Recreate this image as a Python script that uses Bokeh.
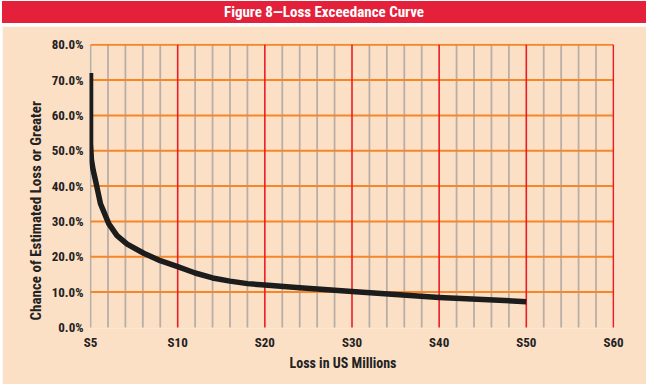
from bokeh.plotting import figure
from bokeh.models import FixedTicker, Range1d, Div, ColumnDataSource, Title
from bokeh.layouts import column
from bokeh.embed import file_html
from bokeh.resources import INLINE

# ---- data ----
title_text = "Figure 8\u2014Loss Exceedance Curve"
x_label = "Loss in US Millions"
y_label = "Chance of Estimated Loss or Greater"
x_tick_values = [5, 10, 20, 30, 40, 50, 60]
x_tick_labels = ["S5", "S10", "S20", "S30", "S40", "S50", "S60"]
y_tick_values = [0, 10, 20, 30, 40, 50, 60, 70, 80]
y_tick_labels = ["0.0%", "10.0%", "20.0%", "30.0%", "40.0%", "50.0%", "60.0%", "70.0%", "80.0%"]
minor_per_major = 5
loss_millions = [5.0, 5.0, 5.05, 5.15, 5.29, 5.57, 6.05, 6.52, 7.1, 8.05, 9.0, 10.0,
                 12.0, 14.0, 16.0, 18.0, 20.0, 24.0, 30.0, 35.0, 40.0, 45.0, 50.0]
chance_pct = [72.0, 52.0, 47.5, 44.5, 41.5, 35.0, 29.3, 26.0, 23.6, 21.0, 18.9, 17.2,
              15.4, 14.0, 13.1, 12.4, 12.0, 11.2, 10.2, 9.3, 8.5, 7.9, 7.3]


def axis_pos(v):
    # category-like axis: S5..S10 occupies one major step, then steps of 10
    return (v - 5) / 5.0 if v <= 10 else v / 10.0


xs = [axis_pos(v) for v in loss_millions]
tick_pos = [axis_pos(v) for v in x_tick_values]
n_major = len(tick_pos) - 1
minor_pos = [i / minor_per_major for i in range(0, n_major * minor_per_major)
             if i % minor_per_major != 0 or i == 0]
y_lo, y_hi = y_tick_values[0], y_tick_values[-1]
x_lo, x_hi = tick_pos[0], tick_pos[-1]

PEACH = "#fce0c6"
RED = "#e4203a"
FONT = "'Roboto Condensed', Roboto, sans-serif"
TXT = "#222222"

header = Div(text=title_text, width=644, height=22, margin=(1, 4, 0, 2),
             styles={"background-color": RED, "color": "white",
                     "font-family": FONT, "font-weight": "bold",
                     "font-size": "15px", "text-align": "center",
                     "line-height": "22px"})

p = figure(width=644, height=358, output_backend="svg", toolbar_location=None,
           title=None, margin=(0, 4, 4, 2),
           x_range=Range1d(-0.012, 6.012), y_range=Range1d(-0.3, 80.35),
           min_border_left=87, min_border_right=32, min_border_top=17,
           min_border_bottom=56)
p.background_fill_color = PEACH
p.border_fill_color = PEACH
p.outline_line_color = None
p.xgrid.visible = False
p.ygrid.visible = False

# grid lines: gray minor verticals, orange horizontals, red major verticals
p.segment(x0=minor_pos, x1=minor_pos, y0=[y_lo] * len(minor_pos), y1=[y_hi] * len(minor_pos),
          line_color="#b9aea6", line_width=1.8)
hy = y_tick_values[1:]
p.segment(x0=[x_lo] * len(hy), x1=[x_hi] * len(hy), y0=hy, y1=hy,
          line_color="#f5862a", line_width=2)
mx = tick_pos[1:]
p.segment(x0=mx, x1=mx, y0=[y_lo] * len(mx), y1=[y_hi] * len(mx),
          line_color="#ec1c24", line_width=1.6)

# axes (tick labels only; axis titles placed as side titles)
p.xaxis.ticker = FixedTicker(ticks=tick_pos)
p.xaxis.major_label_overrides = {t: l for t, l in zip(tick_pos, x_tick_labels)}
p.yaxis.ticker = FixedTicker(ticks=y_tick_values)
p.yaxis.major_label_overrides = {t: l for t, l in zip(y_tick_values, y_tick_labels)}
for ax in (p.xaxis, p.yaxis):
    ax.axis_line_color = None
    ax.major_tick_line_color = None
    ax.minor_tick_line_color = None
    ax.major_tick_out = 0
    ax.major_tick_in = 0
    ax.major_label_text_font = FONT
    ax.major_label_text_font_style = "bold"
    ax.major_label_text_font_size = "13px"
    ax.major_label_text_color = TXT
p.xaxis.major_label_standoff = 6
p.yaxis.major_label_standoff = 6

p.add_layout(Title(text=x_label, align="left", offset=200, standoff=0,
                   text_font=FONT, text_font_style="bold", text_font_size="14px",
                   text_color=TXT), "below")
p.add_layout(Title(text=y_label, align="left", offset=8, standoff=7,
                   text_font=FONT, text_font_style="bold", text_font_size="15px",
                   text_color=TXT), "left")

src = ColumnDataSource(dict(x=xs, y=chance_pct))
p.line("x", "y", source=src, line_color="#1c1c1c", line_width=5.5,
       line_join="round", line_cap="butt")

layout = column(header, p, spacing=3)

open("out.html", "w").write(file_html(layout, INLINE, title="Figure 8"))
